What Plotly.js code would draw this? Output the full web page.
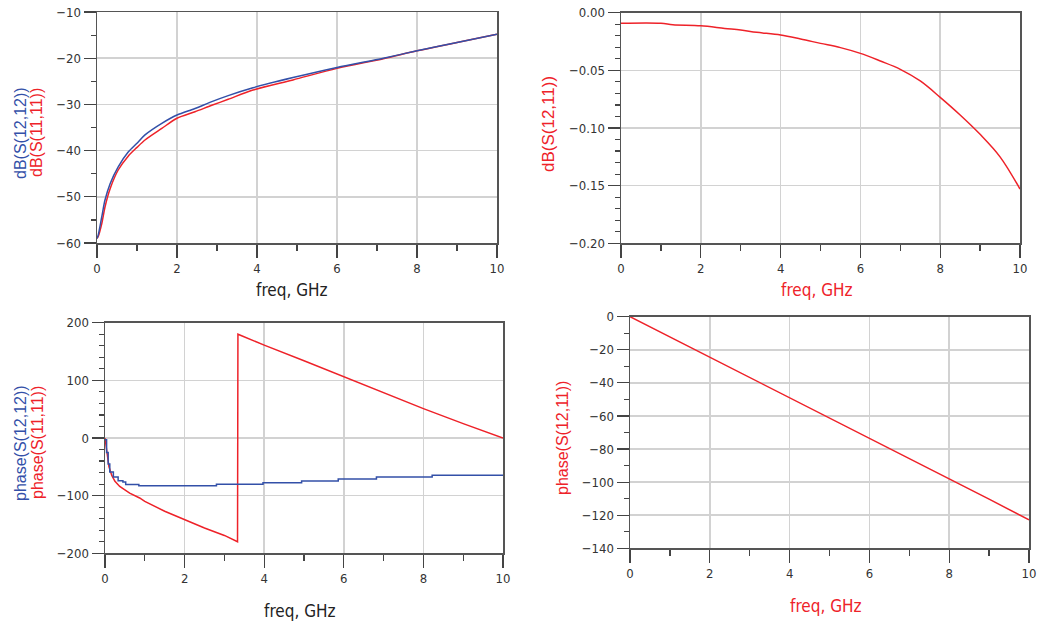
<!DOCTYPE html>
<html>
<head>
<meta charset="utf-8">
<script src="https://cdn.plot.ly/plotly-3.0.1.min.js"></script>
<style>html,body{margin:0;padding:0;background:#fff;}#chart{width:1037px;height:625px;}</style>
</head>
<body>
<div id="chart"></div>
<script>
// ---- data ----
const freqDB = [0, 0.03, 0.12, 0.2, 0.33, 0.53, 0.78, 1.0, 1.2, 1.62, 2.0, 2.45, 2.87, 3.28, 3.9, 4.9, 6.0, 7.16, 8.0, 9.0, 10];
const dbS1212 = [-59, -58.3, -54.3, -50.7, -47.1, -43.5, -40.3, -38.4, -36.6, -34.1, -32.3, -30.9, -29.4, -28.1, -26.4, -24.2, -22.0, -20.0, -18.4, -16.6, -14.8];
const dbS1111 = [-59, -58.6, -55.8, -52.2, -48.2, -44.2, -41.2, -39.3, -37.7, -35.2, -33.0, -31.6, -30.2, -28.9, -26.9, -24.7, -22.2, -20.1, -18.4, -16.6, -14.8];

const freqDB21 = [0, 1, 1.3, 2, 2.6, 3, 3.4, 4, 4.5, 5, 5.5, 6, 6.5, 7, 7.5, 8, 8.5, 9, 9.5, 10];
const dbS1211 = [-0.0092, -0.0092, -0.0104, -0.0113, -0.0136, -0.015, -0.017, -0.0194, -0.0228, -0.0266, -0.0303, -0.0353, -0.0419, -0.0491, -0.0592, -0.0734, -0.0887, -0.1055, -0.125, -0.153];

const freqPh11 = [0, 0.05, 0.1, 0.17, 0.25, 0.37, 0.5, 0.62, 0.87, 1, 1.5, 2, 2.5, 3, 3.33, 3.34, 4, 5, 6, 7, 8, 9, 10];
const phaseS1111 = [0, -27, -50, -65, -75, -84, -90, -95.5, -104, -110, -127, -142, -156, -169, -180, 180, 161, 134, 106, 79, 51, 25, 0];

const freqPh22 = [0, 0.04, 0.08, 0.12, 0.21, 0.33, 0.45, 0.52, 0.85, 2.8, 3.97, 4.94, 5.86, 6.82, 8.22, 10];
const phaseS1212 = [-3, -25, -45, -59, -67.5, -74, -76.5, -80.5, -83, -80.3, -77.5, -74.6, -71.1, -67.6, -64.7, -64.7];

const freqPh21 = [0, 1, 2, 3, 4, 5, 6, 7, 8, 9, 10];
const phaseS1211 = [0, -12.2, -24.6, -36.8, -48.9, -61.1, -73.2, -85.6, -98, -110.3, -122.8];

const xTickVals = [0, 2, 4, 6, 8, 10];

// ---- styling ----
const W = 1037, H = 625;
const RED = '#ee2229', BLUE = '#3350a8';
const TICKFONT = {family: '"Liberation Sans Narrow", "DejaVu Sans Condensed", Arial, sans-serif', size: 13, color: '#333'};
const TITLEFONT = '"Liberation Sans Narrow", "DejaVu Sans Condensed", Arial, sans-serif';
const YTFONT = '"Liberation Sans", Arial, sans-serif';
const px = (a, b) => [a / W, b / W];
const py = (top, bottom) => [1 - bottom / H, 1 - top / H];

function xaxis(dom, anchor) {
  return {
    domain: dom, anchor: anchor, range: [0, 10],
    tickvals: xTickVals, ticks: 'outside', ticklen: 13, tickwidth: 1.2, tickcolor: '#444',
    showline: true, linecolor: '#555', linewidth: 1.5, mirror: true,
    showgrid: true, gridcolor: '#d2d2d2', gridwidth: 1.5, zeroline: false,
    tickfont: TICKFONT,
    minor: {ticks: 'outside', ticklen: 6, dtick: 1, tickcolor: '#444', tickwidth: 1.2, showgrid: false}
  };
}
function yaxis(dom, anchor, range, dtick, minorDtick, fmt) {
  const a = {
    domain: dom, anchor: anchor, range: range, dtick: dtick, tick0: 0,
    ticks: 'outside', ticklen: 12, tickwidth: 1.2, tickcolor: '#444',
    showline: true, linecolor: '#555', linewidth: 1.5, mirror: true,
    showgrid: true, gridcolor: '#d2d2d2', gridwidth: 1.5, zeroline: false,
    tickfont: TICKFONT,
    minor: {ticks: 'outside', ticklen: 5, dtick: minorDtick, tickcolor: '#444', tickwidth: 1.2, showgrid: false}
  };
  if (fmt) a.tickformat = fmt;
  return a;
}
function ann(text, x, y, color, size, angle, family) {
  return {text: text, xref: 'paper', yref: 'paper', x: x / W, y: 1 - y / H,
          xanchor: 'center', yanchor: 'middle', showarrow: false, textangle: angle || 0,
          font: {family: family, size: size, color: color}};
}

const traces = [
  {x: freqDB, y: dbS1111, xaxis: 'x', yaxis: 'y', mode: 'lines', line: {color: RED, width: 1.5, shape: 'spline', smoothing: 0.8}, name: 'dB(S(11,11))'},
  {x: freqDB, y: dbS1212, xaxis: 'x', yaxis: 'y', mode: 'lines', line: {color: BLUE, width: 1.5, shape: 'spline', smoothing: 0.8}, name: 'dB(S(12,12))'},
  {x: freqDB21, y: dbS1211, xaxis: 'x2', yaxis: 'y2', mode: 'lines', line: {color: RED, width: 1.5, shape: 'spline', smoothing: 1}, name: 'dB(S(12,11))'},
  {x: freqPh11, y: phaseS1111, xaxis: 'x3', yaxis: 'y3', mode: 'lines', line: {color: RED, width: 1.5}, name: 'phase(S(11,11))'},
  {x: freqPh22, y: phaseS1212, xaxis: 'x3', yaxis: 'y3', mode: 'lines', line: {color: BLUE, width: 1.5, shape: 'hv'}, name: 'phase(S(12,12))'},
  {x: freqPh21, y: phaseS1211, xaxis: 'x4', yaxis: 'y4', mode: 'lines', line: {color: RED, width: 1.5}, name: 'phase(S(12,11))'}
];

const layout = {
  width: W, height: H, margin: {l: 0, r: 0, t: 0, b: 0},
  paper_bgcolor: '#fff', plot_bgcolor: '#fff', showlegend: false,
  xaxis: xaxis(px(97, 497), 'y'),
  yaxis: yaxis(py(12, 243), 'x', [-60, -10], 10, 5),
  xaxis2: xaxis(px(621, 1020), 'y2'),
  yaxis2: yaxis(py(12.7, 243.3), 'x2', [-0.2, 0], 0.05, 0.01, '.2f'),
  xaxis3: xaxis(px(105, 503), 'y3'),
  yaxis3: yaxis(py(322.7, 553.3), 'x3', [-200, 200], 100, 20),
  xaxis4: xaxis(px(630, 1029), 'y4'),
  yaxis4: yaxis(py(316.7, 548.3), 'x4', [-140, 0], 20, 10),
  annotations: [
    ann('freq, GHz', 292, 290, '#222', 17, 0, TITLEFONT),
    ann('freq, GHz', 817, 290, RED, 17, 0, TITLEFONT),
    ann('freq, GHz', 300, 611, '#222', 17, 0, TITLEFONT),
    ann('freq, GHz', 826, 606, RED, 17, 0, TITLEFONT),
    ann('dB(S(12,12))', 20, 133, BLUE, 16, -90, YTFONT),
    ann('dB(S(11,11))', 36, 133, RED, 16, -90, YTFONT),
    ann('dB(S(12,11))', 548, 124, RED, 17, -90, YTFONT),
    ann('phase(S(12,12))', 20, 443, BLUE, 16, -90, YTFONT),
    ann('phase(S(11,11))', 37, 443, RED, 16, -90, YTFONT),
    ann('phase(S(12,11))', 562, 438, RED, 16, -90, YTFONT)
  ]
};

Plotly.newPlot('chart', traces, layout, {displayModeBar: false, staticPlot: true});
</script>
</body>
</html>
